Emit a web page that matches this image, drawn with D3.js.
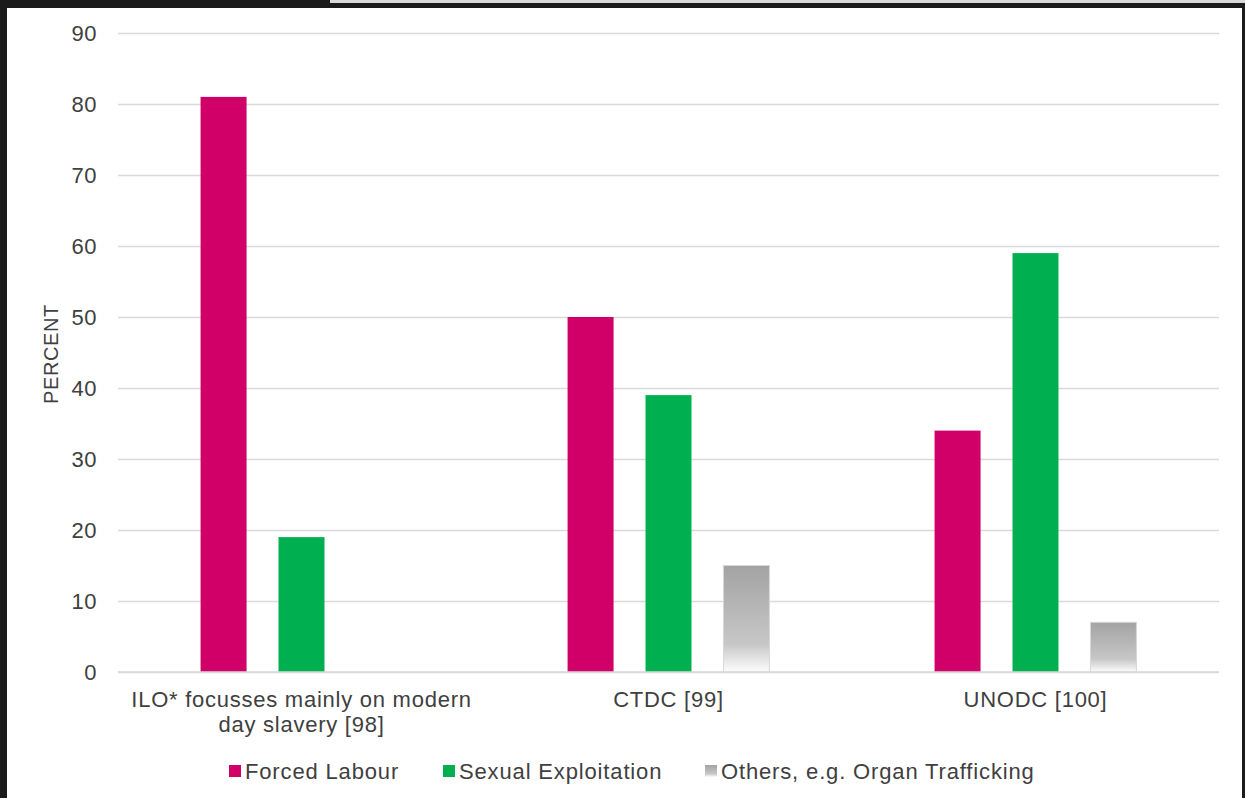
<!DOCTYPE html>
<html>
<head>
<meta charset="utf-8">
<script src="https://cdn.jsdelivr.net/npm/d3@7/dist/d3.min.js"></script>
<style>
  html, body { margin: 0; padding: 0; background: #1b1b1b; }
  svg { display: block; }
  text { font-family: "Liberation Sans", Arial, sans-serif; fill: #404040; }
</style>
</head>
<body>
<script>
const categories = ["ILO* focusses mainly on modern day slavery [98]", "CTDC [99]", "UNODC [100]"];
const categoryLines = [["ILO* focusses mainly on modern", "day slavery [98]"], ["CTDC [99]"], ["UNODC [100]"]];
const seriesNames = ["Forced Labour", "Sexual Exploitation", "Others, e.g. Organ Trafficking"];
const forcedLabour = [81, 50, 34];
const sexualExploitation = [19, 39, 59];
const others = [null, 15, 7];
const yTicks = [0, 10, 20, 30, 40, 50, 60, 70, 80, 90];
const seriesValues = [forcedLabour, sexualExploitation, others];

const W = 1245, H = 798;
const svg = d3.select("body").append("svg").attr("width", W).attr("height", H);

// frame / screenshot border
svg.append("rect").attr("x", 0).attr("y", 0).attr("width", W).attr("height", H).attr("fill", "#1b1b1b");
svg.append("rect").attr("x", 330).attr("y", 0).attr("width", W - 330).attr("height", 3).attr("fill", "#d8d8d8");
svg.append("rect").attr("x", 7).attr("y", 8).attr("width", 1235).attr("height", H - 8).attr("fill", "#ffffff");

const defs = svg.append("defs");
const grad = defs.append("linearGradient").attr("id", "greyGrad")
  .attr("x1", 0).attr("y1", 0).attr("x2", 0).attr("y2", 1);
grad.append("stop").attr("offset", "0%").attr("stop-color", "#a3a3a3");
grad.append("stop").attr("offset", "74%").attr("stop-color", "#c7c7c7");
grad.append("stop").attr("offset", "100%").attr("stop-color", "#fdfdfd");

const m = { left: 118, right: 1219, top: 33, bottom: 672 };
const y = d3.scaleLinear().domain([0, 90]).range([m.bottom, m.top]);
const x0 = d3.scaleBand().domain(categories).range([m.left, m.right]).paddingInner(0.45).paddingOuter(0.225);
const x1 = d3.scaleBand().domain(seriesNames).range([0, x0.bandwidth()]).paddingInner(0.41).paddingOuter(0);
const colors = ["#d10069", "#00b050", "url(#greyGrad)"];
const legendColors = ["#d10069", "#00b050", "url(#greyGrad)"];

// gridlines
const yAxis = d3.axisLeft(y).tickValues(yTicks).tickSize(-(m.right - m.left)).tickPadding(21);
const gy = svg.append("g").attr("transform", `translate(${m.left},0)`).call(yAxis);
gy.select(".domain").remove();
gy.selectAll(".tick line").attr("stroke", "#d9d9d9").attr("stroke-width", 1.3);
gy.selectAll(".tick text").attr("font-size", 22).attr("fill", "#333").style("font-family", '"Liberation Sans", Arial, sans-serif').attr("letter-spacing", 0.5);

// bars
const groups = svg.append("g").selectAll("g").data(categories).join("g")
  .attr("transform", d => `translate(${x0(d)},0)`);
groups.selectAll("rect")
  .data((c, ci) => seriesNames.map((s, si) => ({ s, si, v: seriesValues[si][ci] })).filter(d => d.v != null))
  .join("rect")
  .attr("x", d => x1(d.s))
  .attr("y", d => y(d.v))
  .attr("width", x1.bandwidth())
  .attr("height", d => y(0) - y(d.v))
  .attr("fill", d => colors[d.si])
  .attr("stroke", d => d.si === 2 ? "#d8d8d8" : "none")
  .attr("stroke-width", 1);

// baseline
svg.append("line").attr("x1", m.left).attr("x2", m.right).attr("y1", y(0)).attr("y2", y(0))
  .attr("stroke", "#d9d9d9").attr("stroke-width", 1.5);

// category labels
categories.forEach((c, i) => {
  const t = svg.append("text").attr("text-anchor", "middle")
    .attr("x", x0(c) + x0.bandwidth() / 2).attr("y", 707)
    .attr("font-size", 22).attr("letter-spacing", 0.75);
  categoryLines[i].forEach((ln, li) => {
    t.append("tspan").attr("x", x0(c) + x0.bandwidth() / 2).attr("dy", li === 0 ? 0 : 25).text(ln);
  });
});

// y axis title
svg.append("text").attr("transform", "translate(58,354) rotate(-90)")
  .attr("text-anchor", "middle").attr("font-size", 20).attr("letter-spacing", 0.6).attr("fill", "#333").text("PERCENT");

// legend
const legendX = [229, 443, 705];
seriesNames.forEach((s, i) => {
  svg.append("rect").attr("x", legendX[i]).attr("y", 765).attr("width", 12).attr("height", 12)
    .attr("fill", legendColors[i]);
  svg.append("text").attr("x", legendX[i] + 16).attr("y", 779)
    .attr("font-size", 22).attr("letter-spacing", 0.85).text(s);
});
</script>
</body>
</html>
